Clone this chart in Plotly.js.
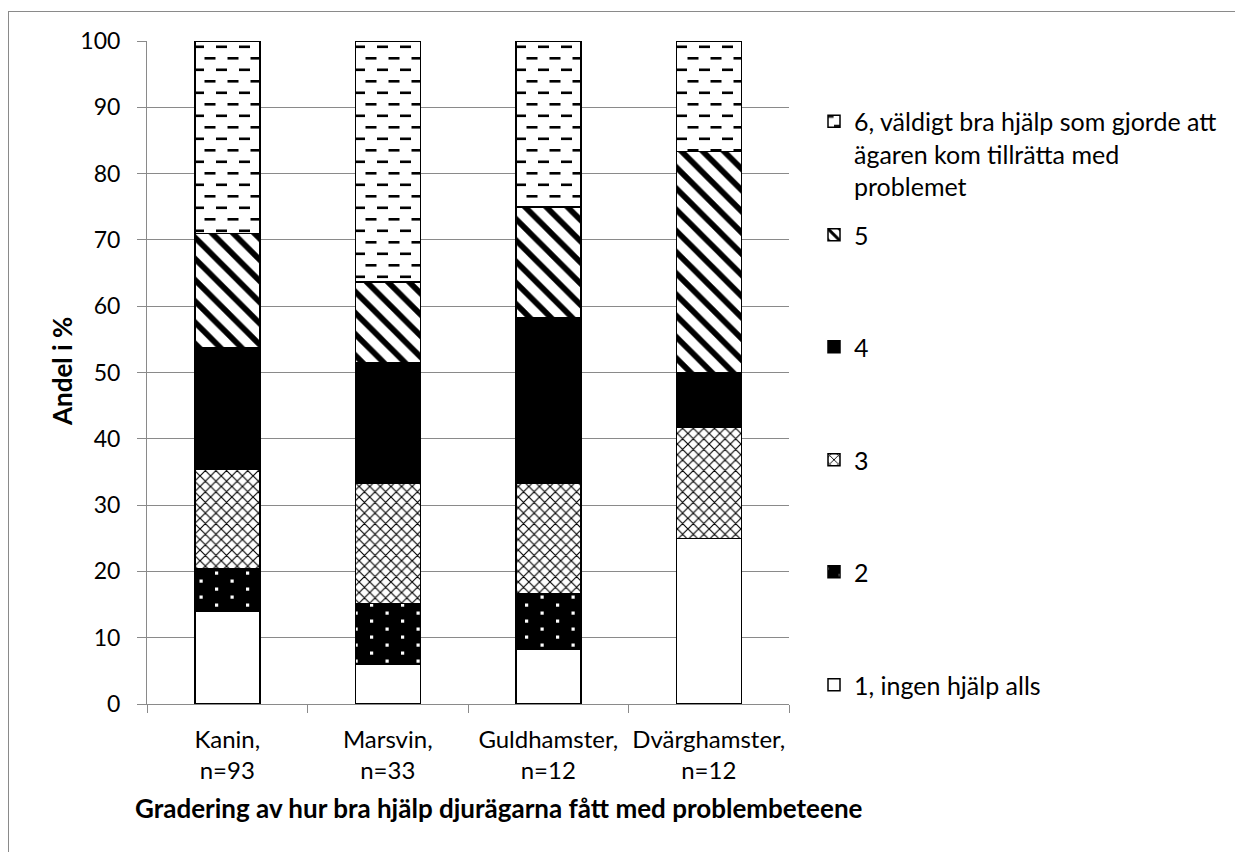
<!DOCTYPE html>
<html>
<head>
<meta charset="utf-8">
<script src="https://cdn.plot.ly/plotly-3.0.1.min.js"></script>
<style>
  html, body { margin: 0; padding: 0; background: #ffffff; }
  #chart { position: absolute; left: 0; top: 0; width: 1235px; height: 852px; }
  #frame { position: absolute; left: 8px; top: 11px; width: 1400px; height: 1000px;
           border-left: 1px solid #8a8a8a; border-top: 1px solid #8a8a8a; pointer-events: none; }
</style>
</head>
<body>
<div id="chart"></div>
<div id="frame"></div>
<script>
// ---- data (percent of owners per grade) ----
var categories = ['Kanin,<br>n=93', 'Marsvin,<br>n=33', 'Guldhamster,<br>n=12', 'Dvärghamster,<br>n=12'];
var grade1 = [13.98, 6.06, 8.33, 25.00];
var grade2 = [6.45, 9.09, 8.33, 0];
var grade3 = [15.05, 18.18, 16.67, 16.67];
var grade4 = [18.28, 18.18, 25.00, 8.33];
var grade5 = [17.20, 12.12, 16.67, 33.33];
var grade6 = [29.03, 36.36, 25.00, 16.67];
var seriesNames = [
  '1, ingen hjälp alls',
  '2',
  '3',
  '4',
  '5',
  '6, väldigt bra hjälp som gjorde att<br>ägaren kom tillrätta med<br>problemet'
];
var yTicks = [0, 10, 20, 30, 40, 50, 60, 70, 80, 90, 100];

var FONT = 'Lato, "Open Sans", sans-serif';
var GRAY = '#8a8a8a';
var line = { color: '#000000', width: 1.5 };

var traces = [
  { y: grade1, name: seriesNames[0], legend: 'legend',
    marker: { color: '#ffffff', line: line } },
  { y: grade2, name: seriesNames[1], legend: 'legend2',
    marker: { color: '#000000', line: line,
      pattern: { shape: '.', bgcolor: '#000000', fgcolor: '#fefefe', size: 10, solidity: 0.1 } } },
  { y: grade3, name: seriesNames[2], legend: 'legend3',
    marker: { color: '#ffffff', line: line,
      pattern: { shape: 'x', bgcolor: '#ffffff', fgcolor: '#000000', size: 7.5, solidity: 0.28 } } },
  { y: grade4, name: seriesNames[3], legend: 'legend4',
    marker: { color: '#000000', line: line } },
  { y: grade5, name: seriesNames[4], legend: 'legend5',
    marker: { color: '#ffffff', line: line,
      pattern: { shape: '\\', bgcolor: '#ffffff', fgcolor: '#000000', size: 15, solidity: 0.38 } } },
  { y: grade6, name: seriesNames[5], legend: 'legend6',
    marker: { color: '#ffffff', line: line,
      pattern: { shape: '-', bgcolor: '#ffffff', fgcolor: '#010101', size: 12, solidity: 0.2 } } }
];
traces.forEach(function (t) {
  t.type = 'bar';
  t.x = categories;
  t.hoverinfo = 'y+name';
});

function legendAt(yPix, valign) {
  return {
    x: (814 - 147) / 642, xanchor: 'left',
    y: (704 - yPix) / 663, yanchor: 'middle',
    bgcolor: 'rgba(0,0,0,0)', borderwidth: 0,
    font: { family: FONT, size: 25, color: '#000000' },
    valign: valign || 'middle'
  };
}

var layout = {
  width: 1235, height: 852,
  margin: { l: 147, r: 446, t: 41, b: 148, pad: 0 },
  paper_bgcolor: '#ffffff', plot_bgcolor: '#ffffff',
  barmode: 'stack', bargap: 0.595,
  showlegend: true,
  font: { family: FONT, size: 23, color: '#000000' },
  xaxis: {
    type: 'category',
    showline: true, linecolor: GRAY, linewidth: 1,
    ticks: 'outside', ticklen: 8, tickcolor: GRAY, tickwidth: 1,
    tickson: 'boundaries',
    showgrid: false, zeroline: false,
    tickangle: 0,
    tickfont: { family: FONT, size: 24, color: '#000000' },
    ticklabelstandoff: 14
  },
  yaxis: {
    range: [0, 100], tickvals: yTicks, ticktext: yTicks.map(String),
    showline: true, linecolor: GRAY, linewidth: 1,
    ticks: 'outside', ticklen: 9, tickcolor: GRAY, tickwidth: 1,
    showgrid: true, gridcolor: GRAY, gridwidth: 1,
    zeroline: false,
    tickfont: { family: FONT, size: 23, color: '#000000' },
    ticklabelstandoff: 12
  },
  legend: legendAt(685),
  legend2: legendAt(572),
  legend3: legendAt(460),
  legend4: legendAt(347),
  legend5: legendAt(235),
  legend6: legendAt(154, 'top'),
  annotations: [
    { text: '<b>Gradering av hur bra hjälp djurägarna fått med problembeteene</b>',
      xref: 'paper', yref: 'paper', x: (499 - 147) / 642, y: (704 - 808) / 663,
      xanchor: 'center', yanchor: 'middle', showarrow: false,
      font: { family: FONT, size: 26, color: '#000000' } },
    { text: '<b>Andel i %</b>',
      xref: 'paper', yref: 'paper', x: (62 - 147) / 642, y: (704 - 372) / 663,
      xanchor: 'center', yanchor: 'middle', textangle: -90, showarrow: false,
      font: { family: FONT, size: 26, color: '#000000' } }
  ]
};

function norm(c) { return (c || '').replace(/\s/g, '').toLowerCase(); }
function colorOf(el) {
  return norm(el.getAttribute('stroke')) + '|' + norm(el.getAttribute('fill')) + '|' +
         norm(el.style.stroke) + '|' + norm(el.style.fill);
}
function rebuild(p, w, h, rects, bg, fg) {
  var NS = 'http://www.w3.org/2000/svg';
  while (p.firstChild) p.removeChild(p.firstChild);
  p.setAttribute('width', w); p.setAttribute('height', h);
  var r0 = document.createElementNS(NS, 'rect');
  r0.setAttribute('width', w); r0.setAttribute('height', h); r0.setAttribute('fill', bg);
  p.appendChild(r0);
  rects.forEach(function (r) {
    var e = document.createElementNS(NS, 'rect');
    e.setAttribute('x', r[0]); e.setAttribute('y', r[1]);
    e.setAttribute('width', r[2]); e.setAttribute('height', r[3]);
    e.setAttribute('fill', fg);
    p.appendChild(e);
  });
}
function customizePatterns() {
  var pats = document.querySelectorAll('pattern');
  pats.forEach(function (p) {
    var kids = p.querySelectorAll('path, circle, rect');
    var isDash = false, isDot = false;
    kids.forEach(function (k) {
      var c = colorOf(k);
      if (c.indexOf('rgb(1,1,1)') >= 0 || c.indexOf('#010101') >= 0) isDash = true;
      if (c.indexOf('rgb(254,254,254)') >= 0 || c.indexOf('#fefefe') >= 0) isDot = true;
    });
    if (isDash) {
      rebuild(p, 23, 23, [[0, 4.5, 11, 2.6], [11.5, 16, 11, 2.6]], '#ffffff', '#000000');
    } else if (isDot) {
      rebuild(p, 31, 16, [[6, 2.5, 3.2, 3.2], [21.5, 10.5, 3.2, 3.2]], '#000000', '#ffffff');
    }
  });
}

Plotly.newPlot('chart', traces, layout, { displayModeBar: false, responsive: false })
  .then(function () { try { customizePatterns(); } catch (e) { console.log(e); } });
</script>
</body>
</html>
